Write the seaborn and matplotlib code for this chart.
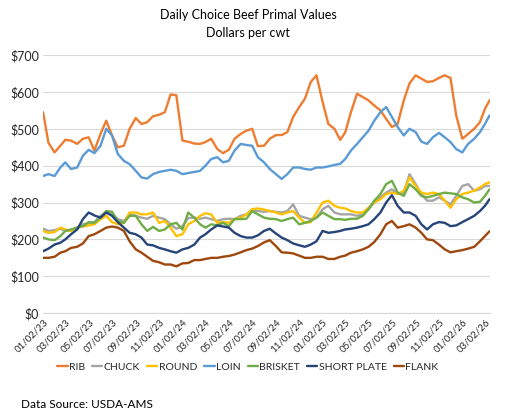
import numpy as np
import pandas as pd
import matplotlib
matplotlib.use("Agg")
import matplotlib.pyplot as plt
import matplotlib.dates as mdates
import seaborn as sns

# semi-monthly readings
dates = [
    "2023-01-02", "2023-01-16", "2023-02-01", "2023-02-16", "2023-03-01", "2023-03-16",
    "2023-04-01", "2023-04-16", "2023-05-01", "2023-05-16", "2023-06-01", "2023-06-16",
    "2023-07-01", "2023-07-16", "2023-08-01", "2023-08-16", "2023-09-01", "2023-09-16",
    "2023-10-01", "2023-10-16", "2023-11-01", "2023-11-16", "2023-12-01", "2023-12-16",
    "2024-01-01", "2024-01-16", "2024-02-01", "2024-02-16", "2024-03-01", "2024-03-16",
    "2024-04-01", "2024-04-16", "2024-05-01", "2024-05-16", "2024-06-01", "2024-06-16",
    "2024-07-01", "2024-07-16", "2024-08-01", "2024-08-16", "2024-09-01", "2024-09-16",
    "2024-10-01", "2024-10-16", "2024-11-01", "2024-11-16", "2024-12-01", "2024-12-16",
    "2025-01-01", "2025-01-16", "2025-02-01", "2025-02-16", "2025-03-01", "2025-03-16",
    "2025-04-01", "2025-04-16", "2025-05-01", "2025-05-16", "2025-06-01", "2025-06-16",
    "2025-07-01", "2025-07-16", "2025-08-01", "2025-08-16", "2025-09-01", "2025-09-16",
    "2025-10-01", "2025-10-16", "2025-11-01", "2025-11-16", "2025-12-01", "2025-12-16",
    "2026-01-01", "2026-01-16", "2026-02-01", "2026-02-16", "2026-03-01", "2026-03-13",
]

rib = [
    545, 462, 436, 454, 470, 468, 459, 473, 477, 441, 486, 522, 482, 450, 454, 500, 529, 513, 518, 534, 538, 545, 593, 591,
    468, 465, 460, 459, 464, 473, 445, 434, 443, 473, 486, 495, 500, 453, 454, 473, 483, 483, 491, 532, 559, 582, 627, 645,
    573, 513, 500, 470, 490, 545, 595, 586, 577, 563, 550, 527, 505, 513, 577, 623, 645, 636, 627, 629, 638, 645, 638, 536,
    473, 486, 500, 518, 554, 577,
]
chuck = [
    229, 223, 225, 229, 223, 225, 232, 241, 244, 247, 264, 275, 268, 255, 250, 268, 264, 259, 256, 264, 259, 255, 241, 229,
    236, 258, 259, 256, 259, 255, 250, 255, 256, 255, 264, 268, 277, 277, 275, 277, 275, 273, 277, 295, 264, 259, 255, 259,
    282, 291, 273, 268, 268, 268, 264, 268, 282, 300, 314, 327, 336, 323, 327, 377, 350, 323, 305, 305, 314, 305, 295, 318,
    345, 350, 332, 336, 345, 345,
]
round_ = [
    223, 218, 220, 232, 227, 223, 232, 235, 238, 241, 255, 264, 247, 241, 245, 273, 273, 268, 268, 273, 245, 250, 232, 209,
    214, 241, 250, 264, 271, 268, 245, 247, 245, 255, 259, 268, 282, 284, 281, 277, 273, 268, 273, 277, 259, 245, 247, 273,
    300, 305, 291, 286, 284, 277, 273, 273, 286, 300, 309, 323, 327, 323, 332, 368, 345, 327, 323, 327, 323, 305, 286, 309,
    323, 327, 332, 341, 350, 355,
]
loin = [
    372, 377, 372, 395, 409, 391, 395, 427, 443, 434, 454, 500, 482, 432, 413, 404, 386, 368, 365, 377, 383, 386, 389, 386,
    377, 380, 383, 386, 400, 418, 423, 409, 413, 441, 459, 456, 454, 423, 409, 391, 377, 364, 377, 395, 395, 391, 389, 395,
    395, 398, 402, 405, 418, 441, 459, 477, 495, 522, 545, 559, 532, 505, 482, 500, 491, 465, 459, 477, 489, 477, 464, 445,
    436, 459, 473, 491, 513, 536,
]
brisket = [
    205, 200, 198, 209, 223, 227, 232, 236, 247, 245, 259, 277, 275, 250, 245, 264, 264, 241, 223, 234, 223, 227, 241, 245,
    227, 273, 259, 241, 232, 241, 238, 245, 236, 255, 255, 256, 277, 268, 259, 256, 255, 250, 255, 259, 241, 245, 250, 259,
    273, 264, 255, 255, 253, 256, 256, 264, 282, 305, 323, 350, 359, 327, 318, 350, 336, 318, 314, 318, 323, 327, 325, 323,
    314, 309, 300, 302, 318, 336,
]
short_plate = [
    168, 175, 186, 191, 200, 214, 227, 255, 273, 265, 259, 273, 264, 247, 232, 218, 214, 205, 186, 184, 177, 173, 168, 164,
    173, 177, 186, 205, 214, 227, 238, 235, 232, 218, 209, 205, 205, 211, 223, 229, 216, 205, 198, 189, 184, 180, 186, 195,
    223, 218, 220, 223, 227, 229, 232, 236, 241, 255, 273, 300, 320, 291, 273, 273, 264, 241, 227, 241, 247, 245, 236, 238,
    247, 255, 264, 277, 291, 309,
]
flank = [
    150, 150, 153, 164, 168, 177, 180, 189, 209, 214, 223, 232, 235, 232, 223, 195, 173, 164, 153, 142, 138, 132, 132, 127,
    135, 136, 144, 144, 147, 150, 150, 153, 155, 159, 165, 171, 175, 182, 192, 198, 182, 165, 164, 162, 156, 150, 150, 153,
    153, 147, 147, 153, 156, 164, 168, 173, 180, 193, 214, 241, 250, 232, 236, 241, 232, 218, 200, 198, 186, 173, 165, 168,
    171, 175, 180, 195, 209, 222,
]

series_names = ["RIB", "CHUCK", "ROUND", "LOIN", "BRISKET", "SHORT PLATE", "FLANK"]
colors = ["#ED7D31", "#A5A5A5", "#FFC000", "#5B9BD5", "#70AD47", "#264478", "#9E480E"]
tick_dates = [
    "2023-01-02", "2023-03-02", "2023-05-02", "2023-07-02", "2023-09-02", "2023-11-02",
    "2024-01-02", "2024-03-02", "2024-05-02", "2024-07-02", "2024-09-02", "2024-11-02",
    "2025-01-02", "2025-03-02", "2025-05-02", "2025-07-02", "2025-09-02", "2025-11-02",
    "2026-01-02", "2026-03-02",
]

# long format for seaborn
values = [rib, chuck, round_, loin, brisket, short_plate, flank]
df = pd.concat(
    [pd.DataFrame({"date": pd.to_datetime(dates), "value": v, "series": n})
     for n, v in zip(series_names, values)],
    ignore_index=True,
)

sns.set_style("white")
plt.rcParams["font.family"] = ["Lato", "DejaVu Sans"]
text_color = "#262626"

fig = plt.figure(figsize=(5.13, 4.17), dpi=100)
ax = fig.add_axes([0.084, 0.249, 0.871, 0.619])

sns.lineplot(data=df, x="date", y="value", hue="series", hue_order=series_names,
             palette=dict(zip(series_names, colors)), linewidth=1.7, ax=ax)

ax.set_xlim(pd.Timestamp("2023-01-02"), pd.Timestamp("2026-03-14"))
ax.set_ylim(0, 700)
ax.set_yticks(range(0, 701, 100))
ax.yaxis.set_major_formatter(plt.FuncFormatter(lambda v, p: f"${v:.0f}"))
ax.set_xticks(pd.to_datetime(tick_dates))
ax.xaxis.set_major_formatter(mdates.DateFormatter("%m/%d/%y"))
ax.tick_params(axis="y", length=0, pad=3, labelsize=9, labelcolor=text_color)
ax.tick_params(axis="x", length=0, pad=3, labelsize=7, labelcolor=text_color)
for lbl in ax.get_xticklabels():
    lbl.set_rotation(45)
    lbl.set_ha("right")
    lbl.set_rotation_mode("anchor")

ax.yaxis.grid(True, color="#D9D9D9", linewidth=0.8)
ax.xaxis.grid(False)
for s in ["top", "right", "left"]:
    ax.spines[s].set_visible(False)
ax.spines["bottom"].set_color("#D9D9D9")
ax.set_xlabel("")
ax.set_ylabel("")

fig.text(0.484, 0.963, "Daily Choice Beef Primal Values", ha="center", va="center",
         fontsize=9, color="black")
fig.text(0.484, 0.921, "Dollars per cwt", ha="center", va="center",
         fontsize=9, color="black")

handles, labels = ax.get_legend_handles_labels()
ax.legend(handles, labels, loc="center", bbox_to_anchor=(0.483, 0.12),
          bbox_transform=fig.transFigure, ncol=7, frameon=False, fontsize=7.5,
          handlelength=1.0, handletextpad=0.1, columnspacing=0.7, labelcolor=text_color)

fig.text(0.04, 0.031, "Data Source: USDA-AMS", ha="left", va="center", fontsize=8.5, color="black")

fig.savefig("out.png", dpi=100)
